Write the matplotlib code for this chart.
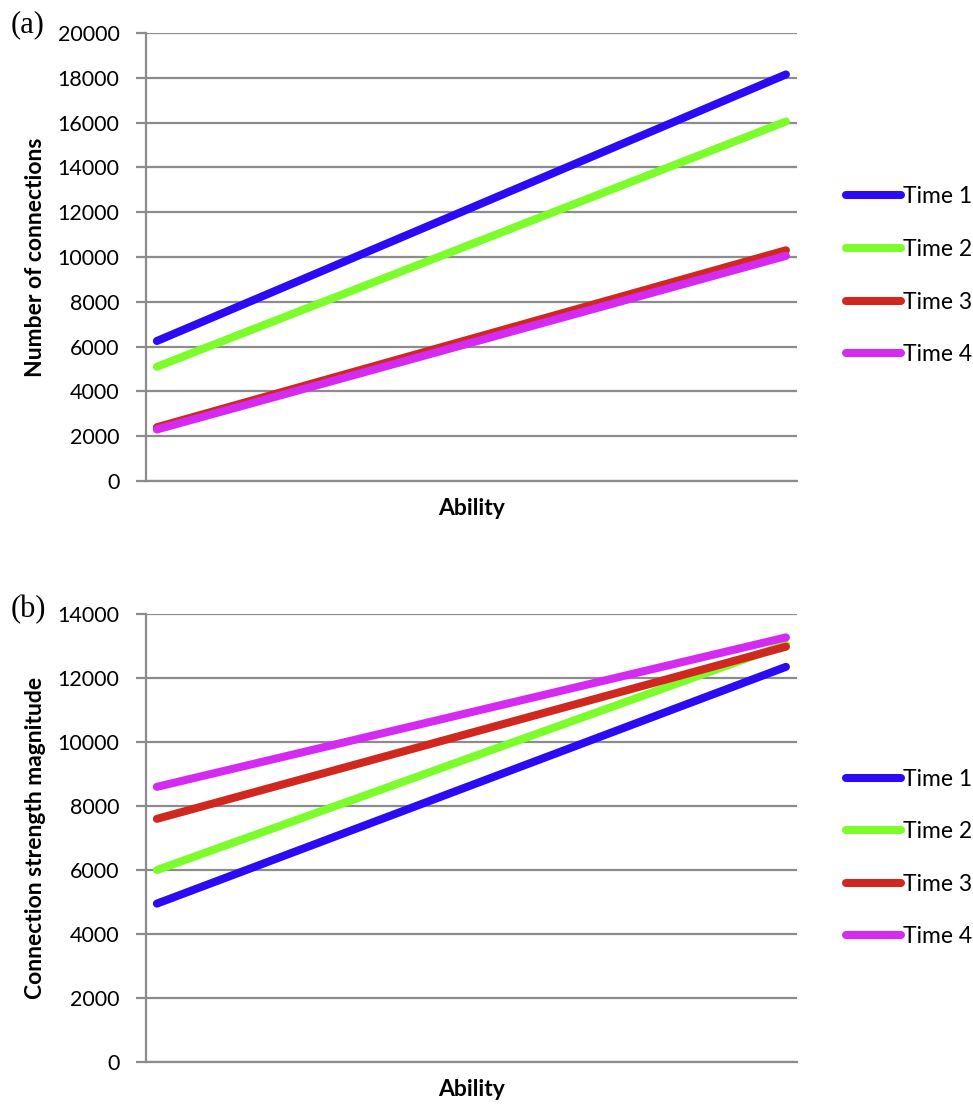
import matplotlib
matplotlib.use("Agg")
import matplotlib.pyplot as plt

# dane (dwa punkty: niska i wysoka zdolnosc)
ability = [0, 1]
series = ["Time 1", "Time 2", "Time 3", "Time 4"]
connections = {
    "Time 1": [6250, 18150],
    "Time 2": [5100, 16050],
    "Time 3": [2400, 10300],
    "Time 4": [2300, 10050],
}
strength = {
    "Time 1": [4950, 12350],
    "Time 2": [6000, 13050],
    "Time 3": [7600, 12980],
    "Time 4": [8600, 13270],
}
top_ticks = list(range(0, 20001, 2000))
bottom_ticks = list(range(0, 14001, 2000))
colors = ["#2b0af5", "#7cfc2a", "#d0281e", "#d52af2"]

plt.rcParams['font.family'] = ['Lato', 'DejaVu Sans']
grey = "#8c8c8c"

fig = plt.figure(figsize=(9.73, 11.08), dpi=100)
ax1 = fig.add_axes([0.150, 0.5659, 0.669, 0.4043])
ax2 = fig.add_axes([0.150, 0.0415, 0.669, 0.4043])


def draw(ax, data, ticks, ylabel, panel, legend_y):
    for name, c in zip(series, colors):
        ax.plot(ability, data[name], color=c, lw=5.8, solid_capstyle='round',
                label=name, zorder=3)
    ax.set_xlim(-0.0174, 1.0174)
    ax.set_ylim(ticks[0], ticks[-1])
    ax.set_yticks(ticks)
    ax.set_yticklabels([str(t) for t in ticks])
    ax.set_xticks([])
    ax.grid(axis='y', color=grey, lw=1.6)
    ax.set_axisbelow(True)
    for s in ['top', 'right']:
        ax.spines[s].set_visible(False)
    for s in ['left', 'bottom']:
        ax.spines[s].set_color(grey)
        ax.spines[s].set_linewidth(1.6)
    ax.tick_params(axis='y', length=7, width=1.6, color=grey, pad=12,
                   labelsize=15.5)
    ax.set_xlabel("Ability", fontsize=16.5, fontweight='bold', labelpad=12)
    ax.set_ylabel(ylabel, fontsize=16.5, fontweight='bold')
    ax.yaxis.set_label_coords(-0.154, 0.5)
    fig.text(0.011, panel[1], panel[0], family='Liberation Serif',
             fontsize=22, va='center', ha='left')
    ax.legend(loc='center left', bbox_to_anchor=(0.860, legend_y),
              bbox_transform=fig.transFigure, frameon=False, fontsize=16.5,
              handlelength=2.4, handletextpad=0.1, labelspacing=1.38,
              borderaxespad=0)


draw(ax1, connections, top_ticks, "Number of connections", ("(a)", 0.9774), 0.751)
draw(ax2, strength, bottom_ticks, "Connection strength magnitude", ("(b)", 0.4495), 0.2256)

fig.savefig("out.png", dpi=100)
